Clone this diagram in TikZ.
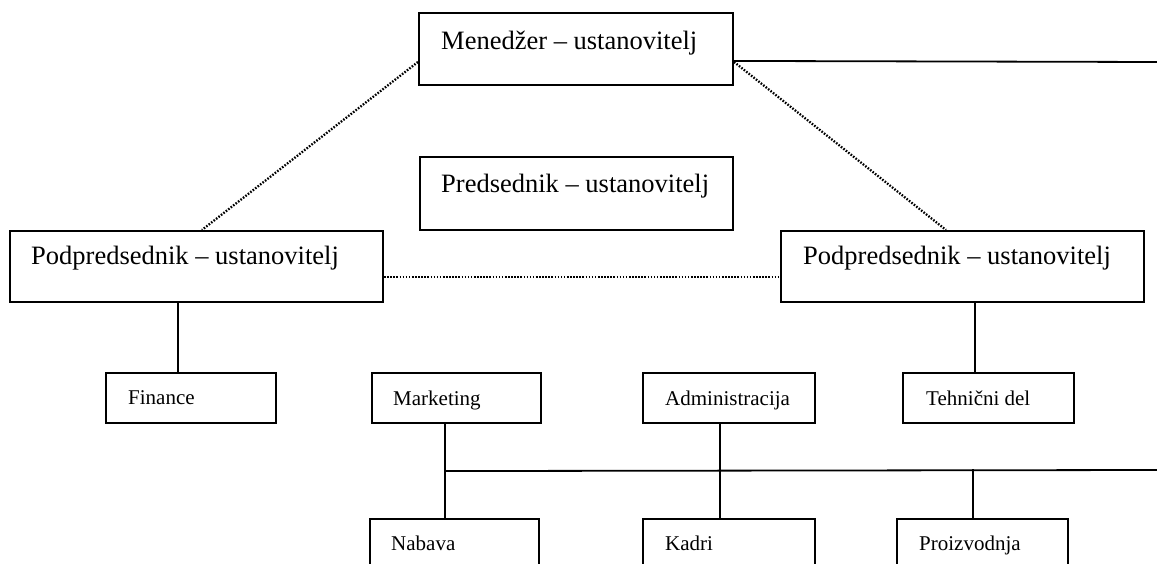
\documentclass[tikz,border=0pt]{standalone}
\usepackage{fontspec}
\setmainfont{Liberation Serif}
\usetikzlibrary{calc}
\begin{document}
\begin{tikzpicture}[x=1pt,y=-1pt,
  box/.style={draw, line width=2.1pt, rectangle, inner sep=0pt},
  conn/.style={line width=1.8pt},
  dotline/.style={line width=2.3pt, dash pattern=on 1.6pt off 1.5pt},
  big/.style={anchor=base west, inner sep=0pt, font=\fontsize{26.5pt}{30pt}\selectfont},
  small/.style={anchor=base west, inner sep=0pt, font=\fontsize{21pt}{24pt}\selectfont}]
\clip (0,0) rectangle (1157,564);
\fill[white] (0,0) rectangle (1157,564);
% boxes
\node[box, minimum width=314pt, minimum height=72pt] (M) at (576,49) {};
\node[box, minimum width=313pt, minimum height=73pt] (P) at (576.5,193.5) {};
\node[box, minimum width=373pt, minimum height=71pt] (L) at (196.5,266.5) {};
\node[box, minimum width=363pt, minimum height=71pt] (R) at (962.5,266.5) {};
\node[box, minimum width=170pt, minimum height=50pt] (F) at (191,398) {};
\node[box, minimum width=169pt, minimum height=50pt] (Mk) at (456.5,398) {};
\node[box, minimum width=172pt, minimum height=50pt] (A) at (729,398) {};
\node[box, minimum width=171pt, minimum height=50pt] (T) at (988.5,398) {};
\node[box, minimum width=169pt, minimum height=81pt] (N) at (454.5,559.5) {};
\node[box, minimum width=172pt, minimum height=81pt] (K) at (729,559.5) {};
\node[box, minimum width=171pt, minimum height=81pt] (Pr) at (982.5,559.5) {};
% texts
\node[big] (tM) at (441,50) {Menedžer – ustanovitelj};
\node[big] (tP) at (441,193) {Predsednik – ustanovitelj};
\node[big] (tL) at (31,265) {Podpredsednik – ustanovitelj};
\node[big] (tR) at (803,265) {Podpredsednik – ustanovitelj};
\node[small] (tF) at (128,404) {Finance};
\node[small] (tMk) at (393,405) {Marketing};
\node[small] (tA) at (665,405) {Administracija};
\node[small] (tT) at (926,405) {Tehnični del};
\node[small] (tN) at (391,550) {Nabava};
\node[small] (tK) at (665,550) {Kadri};
\node[small] (tPr) at (919,550) {Proizvodnja};
% free ends
\coordinate (topend) at (1157,62);
\coordinate (busend) at (1157,470);
% connectors
\draw[conn] (M.north east) ++(0,49) -- (topend);
\draw[dotline] ($(M.north west)+(0,50)$) -- ($(L.north west)+(193,0)$);
\draw[dotline] ($(M.north east)+(0,50)$) -- ($(R.north west)+(166,0)$);
\draw[dotline] ($(L.north east)+(0,47)$) -- ($(R.north west)+(0,47)$);
\draw[conn] ($(L.south west)+(169,0)$) -- ($(F.north west)+(73,0)$);
\draw[conn] ($(R.south west)+(195,0)$) -- ($(T.north west)+(73,0)$);
\draw[conn] ($(Mk.south west)+(74,0)$) -- ($(N.north west)+(76,0)$);
\draw[conn] ($(Mk.south west)+(74,47)$) -- (busend);
\draw[conn] ($(A.south west)+(78,0)$) -- ($(K.north west)+(78,0)$);
\draw[conn] ($(Pr.north west)+(77,0)$) -- ++(0,-49);
\end{tikzpicture}
\end{document}
